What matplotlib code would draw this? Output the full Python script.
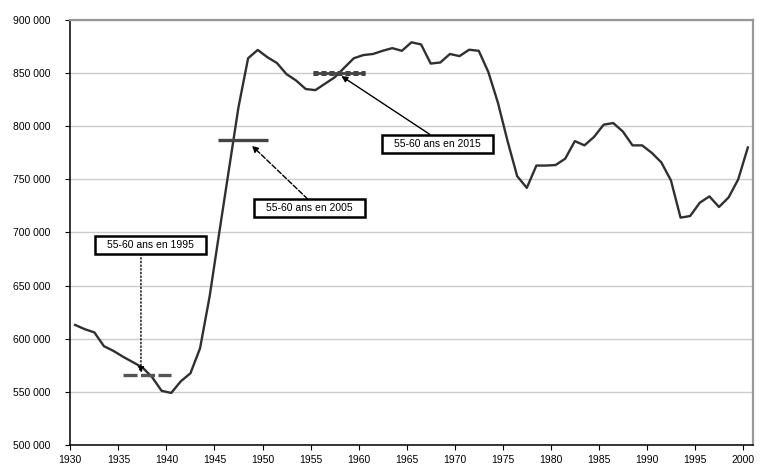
import matplotlib
matplotlib.use("Agg")
import matplotlib.pyplot as plt
import matplotlib.patches as patches
import matplotlib.ticker as ticker

# -----------------------------------------------------------------------------
# Data: births per year, plotted mid-category.
# -----------------------------------------------------------------------------

years = list(range(1930, 2001))
values = [
    613000, 609000, 606000, 593000, 588500, 583000, 578000, 573000, 564000, 551000,
    549000, 560000, 567500, 591000, 640000, 700000, 759000, 818000, 864000, 871800,
    865000, 859500, 849000, 843000, 835000, 834000, 840000, 846000, 855000, 864000,
    867000, 868000, 871000, 873500, 871000, 879000, 877000, 859000, 860000, 868000,
    866000, 872000, 871000, 851000, 822000, 786000, 753000, 742000, 763000, 763000,
    763500, 769500, 786000, 782000, 790000, 801500, 803000, 795000, 782000, 782000,
    775000, 766000, 749000, 714000, 715500, 728000, 734000, 724000, 733000, 750000,
    780000,
]

# cohort markers: label, level, first year, last year, arrow tail/tip, box centre
cohortLabels = ["55-60 ans en 1995", "55-60 ans en 2005", "55-60 ans en 2015"]
cohortLevels = [566000, 787000, 850400]
cohortStart = [1935.5, 1945.4, 1955.3]
cohortEnd = [1940.5, 1950.6, 1960.7]
arrowTip = [(1937.35, 567500), (1948.9, 781700), (1958.2, 847300)]
arrowTail = [(1937.35, 679800), (1954.7, 731500), (1967.4, 792400)]
boxCentre = [(1938.37, 688000), (1954.9, 722900), (1968.2, 783700)]

yTicks = list(range(500000, 900001, 50000))
xTicks = list(range(1930, 2001, 5))

# -----------------------------------------------------------------------------
# Figure
# -----------------------------------------------------------------------------

plt.rcParams["font.family"] = ["Liberation Sans", "DejaVu Sans"]

fig = plt.figure(figsize=(7.61, 4.67), dpi=100)
ax = fig.add_axes([0.0924, 0.0471, 0.8966, 0.9101])

ax.plot([y + 0.5 for y in years], values, color="#303030", linewidth=1.7,
        solid_joinstyle="round", zorder=3)

ax.set_xlim(1930, 2001)
ax.set_ylim(500000, 900000)
ax.set_xticks(xTicks)
ax.set_yticks(yTicks)
ax.yaxis.set_major_formatter(
    ticker.FuncFormatter(lambda v, pos: "{:,}".format(int(v)).replace(",", " "))
)
ax.tick_params(axis="y", direction="out", length=3.5, width=0.8, pad=11,
               labelsize=7.5, colors="black")
ax.tick_params(axis="x", direction="out", length=3.5, width=0.8, pad=4,
               labelsize=7.5, colors="black")

ax.grid(axis="y", color="#cccccc", linewidth=1.0)
ax.set_axisbelow(True)
for side in ("left", "bottom"):
    ax.spines[side].set_color("black")
    ax.spines[side].set_linewidth(1.1)
for side in ("top", "right"):
    ax.spines[side].set_color("#999999")
    ax.spines[side].set_linewidth(1.6)

# cohort level lines
ax.plot([cohortStart[0], cohortEnd[0]], [cohortLevels[0]] * 2, color="#555555",
        linewidth=2.4, dashes=(4.2, 1.05), dash_capstyle="butt", zorder=4)
ax.plot([cohortStart[1], cohortEnd[1]], [cohortLevels[1]] * 2, color="#444444",
        linewidth=2.4, solid_capstyle="butt", zorder=4)
ax.plot([cohortStart[2], cohortEnd[2]], [cohortLevels[2]] * 2, color="#444444",
        linewidth=2.0, solid_capstyle="butt", zorder=4)
ax.plot([cohortStart[2], cohortEnd[2]], [cohortLevels[2]] * 2, color="#444444",
        linewidth=3.6, dashes=(1.0, 0.6), dash_capstyle="butt", zorder=4)

# arrows
arrowStyles = [":", "--", "-"]
for tail, tip, ls in zip(arrowTail, arrowTip, arrowStyles):
    ax.annotate("", xy=tip, xytext=tail,
                arrowprops=dict(arrowstyle="-|>", color="black", linewidth=1.0,
                                linestyle=ls, mutation_scale=9,
                                shrinkA=0, shrinkB=0),
                zorder=5)

# label boxes
boxW = 11.6
boxH = 17000
for label, (cx, cy) in zip(cohortLabels, boxCentre):
    ax.add_patch(patches.Rectangle((cx - boxW / 2, cy - boxH / 2), boxW, boxH,
                                   facecolor="white", edgecolor="black",
                                   linewidth=1.8, zorder=6))
    ax.text(cx, cy, label, ha="center", va="center", fontsize=7.5, zorder=7)

fig.savefig("out.png", dpi=100)
